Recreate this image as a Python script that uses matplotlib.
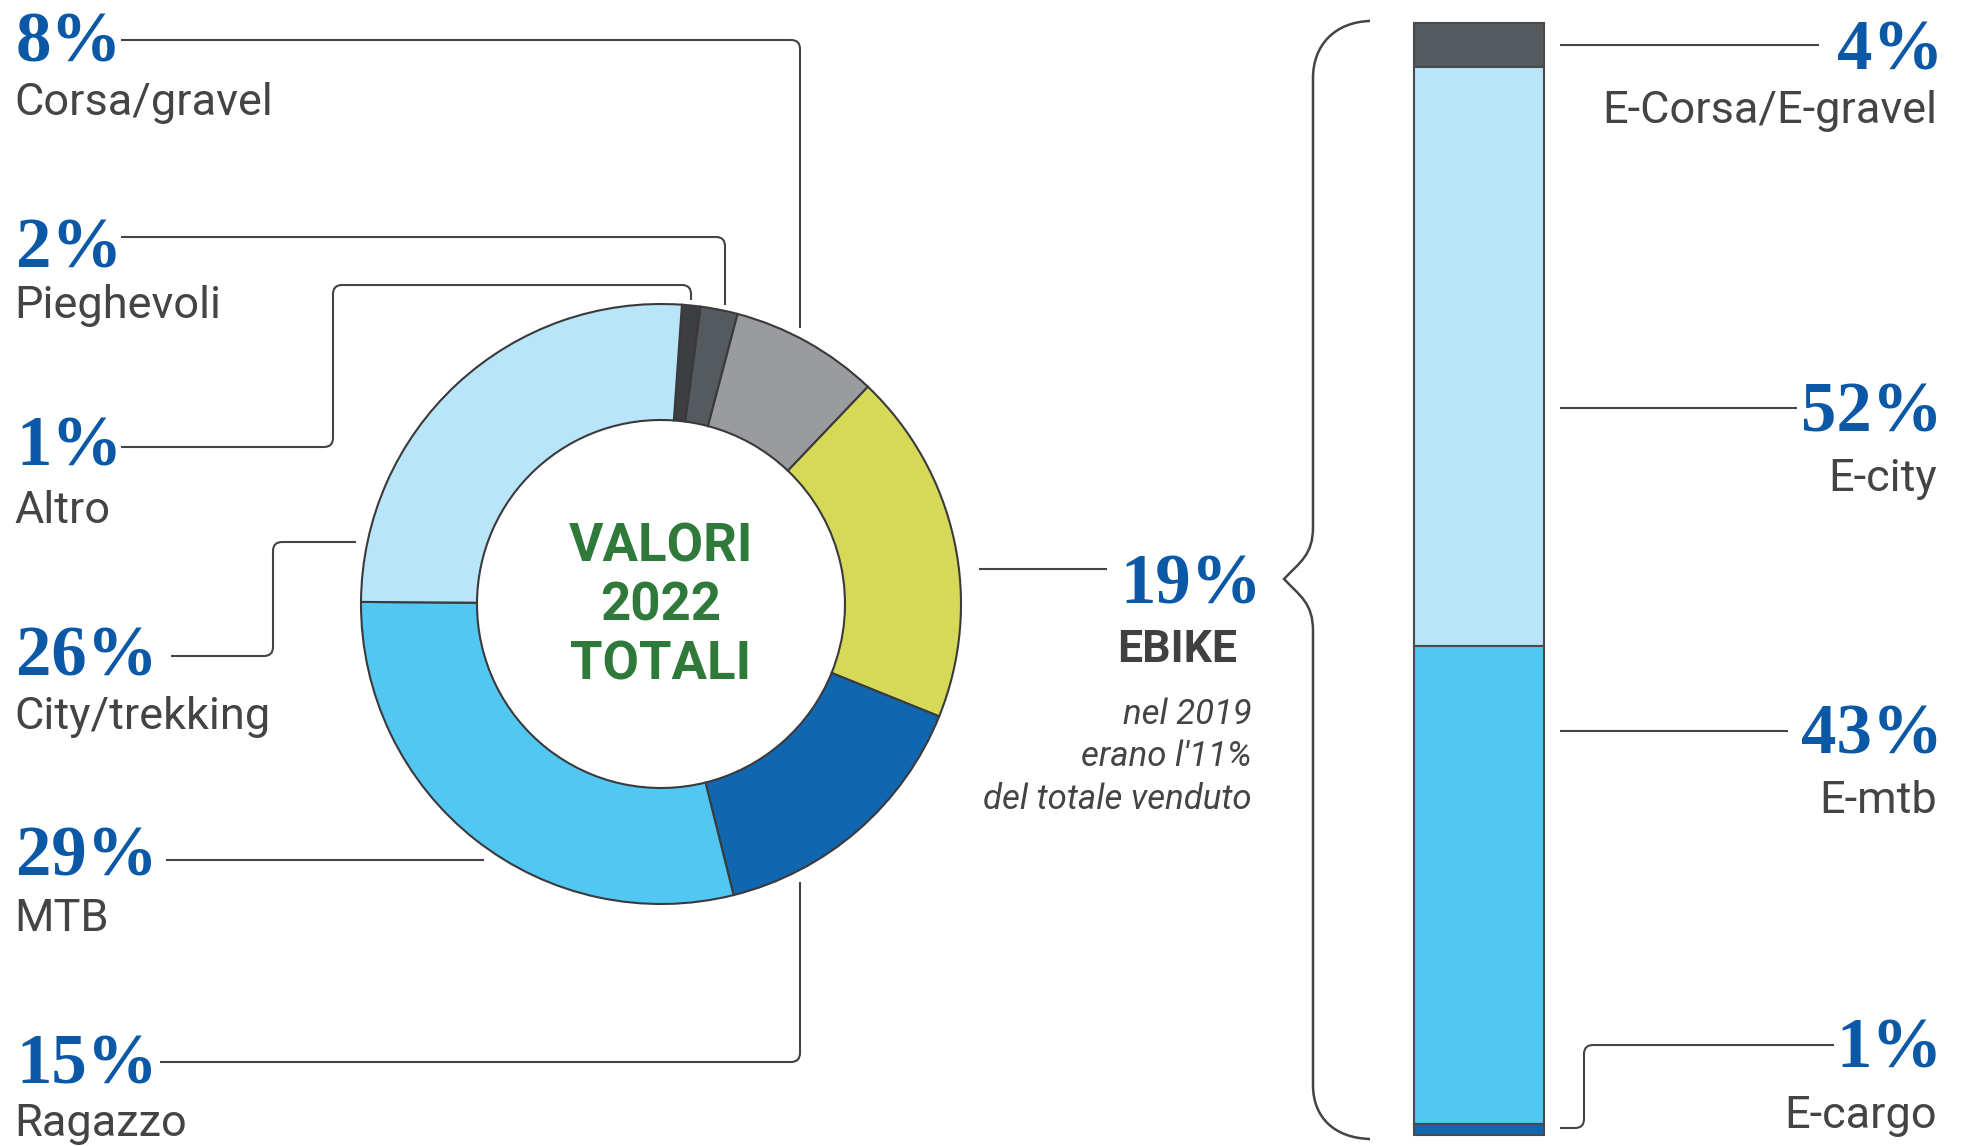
import matplotlib
matplotlib.use("Agg")
import matplotlib.pyplot as plt
import numpy as np
from matplotlib.path import Path
from matplotlib.patches import PathPatch

# dati: quote di mercato 2022
categorie = ["Altro", "Pieghevoli", "Corsa/gravel", "EBIKE", "Ragazzo", "MTB", "City/trekking"]
quote = [1, 2, 8, 19, 15, 29, 26]
colori = ["#3d3e41", "#555a5e", "#9a9b9f", "#d5d957", "#1166b0", "#52c7f2", "#b8e5f8"]

ebike_cat = ["E-Corsa/E-gravel", "E-city", "E-mtb", "E-cargo"]
ebike_quote = [4, 52, 43, 1]
ebike_colori = ["#555a5e", "#b8e5f8", "#52c7f2", "#1166b0"]

nota_ebike = "nel 2019\nerano l'11%\ndel totale venduto"
titolo_centro = "VALORI\n2022\nTOTALI"

W, H = 1961, 1146
BLU = "#0b59a6"
GRIGIO = "#444446"
LINEA = "#444446"

fig = plt.figure(figsize=(W / 100, H / 100), dpi=100)
ax = fig.add_axes([0, 0, 1, 1])

# ciambella (asse y invertito -> counterclock=True gira in senso orario)
ax.pie(quote, colors=colori, center=(661, 604), radius=300,
       startangle=-86, counterclock=True,
       wedgeprops=dict(width=116, edgecolor="#3a3a3c", linewidth=1.5))
ax.set_xlim(0, W)
ax.set_ylim(H, 0)
ax.set_aspect("equal")
ax.axis("off")

for i, riga in enumerate(titolo_centro.split("\n")):
    ax.text(661, 562 + i * 58.5, riga, ha="center", va="baseline", color="#2f7a3b",
            fontsize=38, fontweight="bold", family="Roboto")


def connettore(punti, r=9):
    punti = np.array(punti, dtype=float)
    verts = [punti[0]]
    codes = [Path.MOVETO]
    for i in range(1, len(punti) - 1):
        p0, p, p1 = punti[i - 1], punti[i], punti[i + 1]
        d1 = (p - p0) / np.linalg.norm(p - p0)
        d2 = (p1 - p) / np.linalg.norm(p1 - p)
        verts += [p - d1 * r, p, p + d2 * r]
        codes += [Path.LINETO, Path.CURVE3, Path.CURVE3]
    verts.append(punti[-1])
    codes.append(Path.LINETO)
    ax.add_patch(PathPatch(Path(verts, codes), fill=False, edgecolor=LINEA, lw=1.5))


# etichette a sinistra: (baseline percentuale, baseline nome)
pos_sx = {
    "Corsa/gravel": (61, 115),
    "Pieghevoli": (267, 318),
    "Altro": (465, 523),
    "City/trekking": (676, 729),
    "MTB": (875, 931),
    "Ragazzo": (1084, 1136),
}
for nome, v in zip(categorie, quote):
    if nome in pos_sx:
        yp, yn = pos_sx[nome]
        ax.text(16, yp, f"{v}%", ha="left", va="baseline", color=BLU,
                fontsize=51, fontweight="bold", family="Liberation Serif")
        ax.text(14, yn, nome, ha="left", va="baseline", color=GRIGIO,
                fontsize=32.5, family="Roboto")

connettore([(121, 40), (800, 40), (800, 328)])
connettore([(121, 237), (725, 237), (725, 305)])
connettore([(121, 447), (333, 447), (333, 285), (691, 285), (691, 300)])
connettore([(171, 656), (273, 656), (273, 542), (356, 542)])
connettore([(166, 860), (484, 860)])
connettore([(160, 1062), (800, 1062), (800, 882)])
connettore([(979, 569), (1107, 569)])

# blocco EBIKE
v_ebike = quote[categorie.index("EBIKE")]
ax.text(1262, 603, f"{v_ebike}%", ha="right", va="baseline", color=BLU,
        fontsize=51, fontweight="bold", family="Liberation Serif")
ax.text(1177, 662, "EBIKE", ha="center", va="baseline", color="#404042",
        fontsize=32, fontweight="bold", family="Roboto")
for i, riga in enumerate(nota_ebike.split("\n")):
    ax.text(1252, 724 + i * 42.5, riga, ha="right", va="baseline", color=GRIGIO,
            fontsize=25, style="italic", family="Roboto")

# graffa
graffa = Path(
    [(1370, 21), (1335, 22), (1313, 45), (1313, 78),
     (1313, 527),
     (1313, 555), (1300, 562), (1284, 579),
     (1300, 596), (1313, 603), (1313, 631),
     (1313, 1085),
     (1313, 1118), (1335, 1138), (1370, 1139)],
    [Path.MOVETO, Path.CURVE4, Path.CURVE4, Path.CURVE4,
     Path.LINETO,
     Path.CURVE4, Path.CURVE4, Path.CURVE4,
     Path.CURVE4, Path.CURVE4, Path.CURVE4,
     Path.LINETO,
     Path.CURVE4, Path.CURVE4, Path.CURVE4])
ax.add_patch(PathPatch(graffa, fill=False, edgecolor=LINEA, lw=1.8))

# barra impilata delle ebike
bx0, bx1, by0, by1 = 1414, 1544, 22.5, 1135
axb = fig.add_axes([bx0 / W, (H - by1) / H, (bx1 - bx0) / W, (by1 - by0) / H])
basi = np.concatenate([[0], np.cumsum(ebike_quote)[:-1]])
axb.bar(0, ebike_quote, bottom=basi, width=1, color=ebike_colori,
        edgecolor="#4a4a4c", linewidth=1.5, clip_on=False)
axb.set_xlim(-0.5, 0.5)
axb.set_ylim(100, 0)
axb.axis("off")

pos_dx = {
    "E-Corsa/E-gravel": (70, 123),
    "E-city": (432, 491),
    "E-mtb": (754, 813),
    "E-cargo": (1067, 1128),
}
for nome, v in zip(ebike_cat, ebike_quote):
    yp, yn = pos_dx[nome]
    ax.text(1943, yp, f"{v}%", ha="right", va="baseline", color=BLU,
            fontsize=51, fontweight="bold", family="Liberation Serif")
    ax.text(1937, yn, nome, ha="right", va="baseline", color=GRIGIO,
            fontsize=32.5, family="Roboto")

connettore([(1560, 45), (1819, 45)])
connettore([(1560, 408), (1797, 408)])
connettore([(1560, 731), (1788, 731)])
connettore([(1560, 1128), (1584, 1128), (1584, 1045), (1834, 1045)])

fig.savefig("out.png", dpi=100, facecolor="white")
